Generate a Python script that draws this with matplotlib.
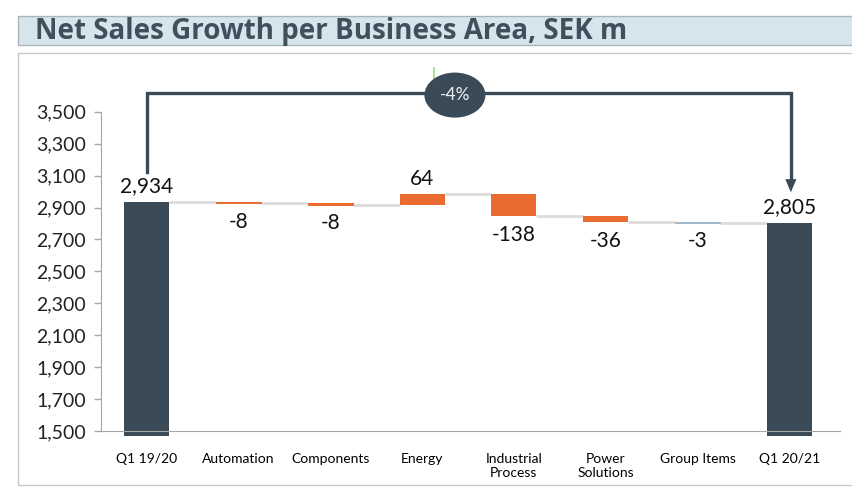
import matplotlib
matplotlib.use("Agg")
import matplotlib.pyplot as plt
from matplotlib.patches import Rectangle, Ellipse
import numpy as np

plt.rcParams['font.family'] = ['Lato', 'DejaVu Sans']

categories = ["Q1 19/20", "Automation", "Components", "Energy",
              "Industrial\nProcess", "Power\nSolutions", "Group Items", "Q1 20/21"]
start_total = 2934
deltas = [-8, -8, 64, -138, -36, -3]
end_total = 2805
delta_labels = ["-8", "-8", "64", "-138", "-36", "-3"]
change_label = "-4%"
yticks = [1500, 1700, 1900, 2100, 2300, 2500, 2700, 2900, 3100, 3300, 3500]

DARK = "#3a4a56"
ORANGE = "#eb6a2f"
GROUP = "#9fb8cc"
CONN = "#dcdcdc"
AXIS = "#a6a6a6"

fig = plt.figure(figsize=(8.53, 4.91), dpi=100)

# title banner & frame
fig.patches.append(Rectangle((18/853, (491-45)/491), 1.0, 29/491, transform=fig.transFigure,
                             facecolor="#d6e4ec", edgecolor="#aab5bb", lw=1, zorder=-2))
fig.patches.append(Rectangle((18/853, 6/491), 1.0, 432/491, transform=fig.transFigure,
                             facecolor="white", edgecolor="#c8c8c8", lw=1, zorder=-2))
fig.text(35/853, (491-31)/491, "Net Sales Growth per Business Area, SEK m",
         fontsize=20, fontweight="bold", color="#404f5b", va="center", ha="left",
         family=["Open Sans", "DejaVu Sans"])

ybot, ytop = 1469, 3650
ax_bottom_px, ax_top_px = 436.0, 87.75
ax = fig.add_axes([101/853, (491-ax_bottom_px)/491, (840-101)/853,
                   (ax_bottom_px-ax_top_px)/491])
ax.set_zorder(2)
ax.patch.set_alpha(0)
ax.set_ylim(ybot, ytop)
ax.set_xlim(-0.495, 7.55)

x = np.arange(len(categories))
w = 0.49

# totals
ax.bar([0, 7], [start_total - ybot, end_total - ybot], bottom=ybot, width=w, color=DARK, zorder=3)

# deltas
level = start_total
levels = [start_total]
for i, d in enumerate(deltas):
    col = GROUP if i == len(deltas) - 1 else ORANGE
    b = level if d >= 0 else level + d
    h = abs(d)
    ax.bar(i + 1, h, bottom=b, width=w, color=col, zorder=3,
           edgecolor=col, linewidth=0.7 if h < 10 else 0)
    level += d
    levels.append(level)

# connectors
for i in range(len(levels)):
    ax.plot([i + w/2, i + 1 - w/2], [levels[i], levels[i]], color=CONN, lw=2.0, zorder=2,
            solid_capstyle="butt")

# labels
ax.annotate(f"{start_total:,}", (0, start_total), xytext=(0, 4), textcoords="offset points",
            ha="center", va="bottom", fontsize=15, color="#111111")
ax.annotate(f"{end_total:,}", (7, end_total), xytext=(0, 4), textcoords="offset points",
            ha="center", va="bottom", fontsize=15, color="#111111")
level = start_total
for i, d in enumerate(deltas):
    if d >= 0:
        ax.annotate(delta_labels[i], (i + 1, level + d), xytext=(0, 4), textcoords="offset points",
                    ha="center", va="bottom", fontsize=15, color="#111111")
    else:
        ax.annotate(delta_labels[i], (i + 1, level + d), xytext=(0, -6), textcoords="offset points",
                    ha="center", va="top", fontsize=15, color="#111111")
    level += d

# bracket arrow
ytopline = 3616
xl, xr = 0.01, 7.015
ax.plot([xl, xl, xr, xr], [start_total + 188, ytopline, ytopline, end_total + 270],
        color=DARK, lw=2.4, solid_joinstyle="miter", clip_on=False, zorder=4)
ax.annotate("", xy=(xr, end_total + 190), xytext=(xr, end_total + 280),
            arrowprops=dict(arrowstyle="-|>,head_length=0.95,head_width=0.4", color=DARK, lw=0,
                            shrinkA=0, shrinkB=0), annotation_clip=False)
cx, cy = 3.358, 3604
ax.add_patch(Ellipse((cx, cy), 0.664, 282, facecolor=DARK, edgecolor="none", zorder=5, clip_on=False))
ax.text(cx, cy, change_label, color="#f2f2f2", fontsize=12.5, ha="center", va="center", zorder=6)
# small green mark
ax.plot([3.13, 3.13], [3698, 3773], color="#90e080", lw=1.2, clip_on=False, zorder=4)

# axes styling
ax.set_yticks(yticks)
ax.set_yticklabels([f"{v:,}" for v in yticks], fontsize=14, color="#222222")
ax.set_xticks(x)
ax.set_xticklabels(categories, fontsize=9, color="#222222", linespacing=1.85)
ax.tick_params(axis="x", length=0, pad=15.5)
ax.tick_params(axis="y", length=5, color=AXIS, width=1, pad=6)
for s in ["top", "right"]:
    ax.spines[s].set_visible(False)
ax.spines["left"].set_color(AXIS)
ax.spines["left"].set_bounds(1500, 3500)
ax.spines["bottom"].set_position(("data", 1500))
ax.spines["bottom"].set_color(AXIS)
ax.spines["bottom"].set_zorder(4)

fig.savefig("out.png", dpi=100)
